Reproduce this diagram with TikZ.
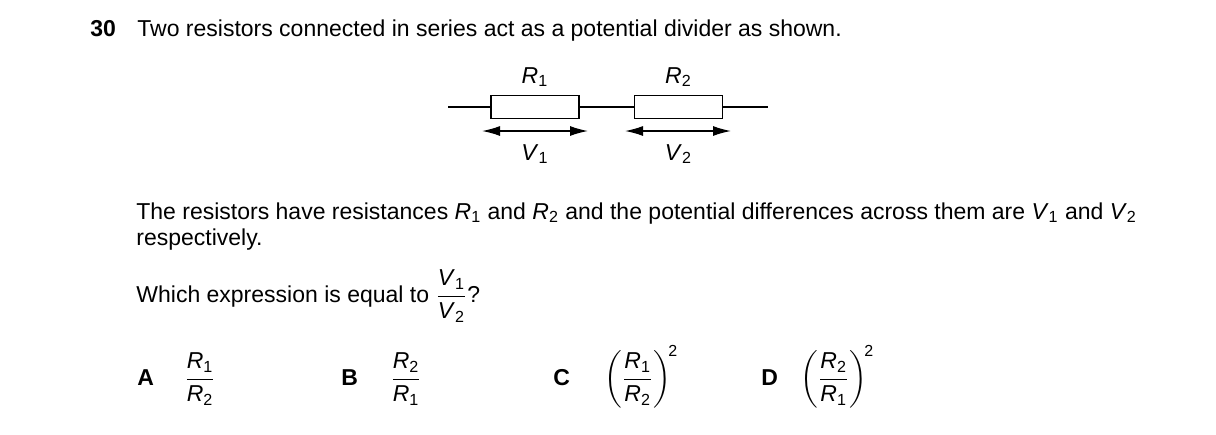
\documentclass[tikz,border=0pt]{standalone}
\usepackage{amsmath}
\usepackage{fontspec}
\setmainfont{Liberation Sans}
\usetikzlibrary{arrows.meta}
\newcommand{\vq}[2]{\textit{#1}\textsubscript{#2}}
\newcommand{\sq}{\mbox{\fontsize{8}{9}\selectfont 2}}
\begin{document}
\begin{tikzpicture}[x=0.5pt,y=-0.5pt,
    txt/.style={anchor=base west, inner sep=0pt, font=\fontsize{11.5}{14}\selectfont},
    res/.style={draw, line width=0.8pt, fill=white, minimum width=44pt, minimum height=11.5pt, inner sep=0pt},
    vlab/.style={inner sep=0pt, font=\fontsize{11.5}{14}\selectfont},
    span/.style={line width=0.7pt, {Latex[length=9pt,width=5pt]}-{Latex[length=9pt,width=5pt]}}]
    \useasboundingbox (0,0) rectangle (1216,434);
    % question
    \node[txt] (num) at (90,36) {\textbf{30}};
    \node[txt] (head) at (137,36) {Two resistors connected in series act as a potential divider as shown.};
    % circuit
    \coordinate (wl) at (448,107);
    \coordinate (wr) at (768,107);
    \draw[line width=0.8pt] (wl) -- (wr);
    \node[res] (r1) at (535,107) {};
    \node[res] (r2) at (678.5,107) {};
    \node[vlab] (r1lab) at (535,77) {\vq{R}{1}};
    \node[vlab] (r2lab) at (678.5,77) {\vq{R}{2}};
    \coordinate (a1) at (482,131);
    \coordinate (b1) at (588,131);
    \coordinate (a2) at (625,131);
    \coordinate (b2) at (731,131);
    \draw[span] (a1) -- (b1);
    \draw[span] (a2) -- (b2);
    \node[vlab] (v1lab) at (535,154) {\vq{V}{1}};
    \node[vlab] (v2lab) at (678.5,154) {\vq{V}{2}};
    % text
    \node[txt] (p1) at (136,219) {The resistors have resistances \vq{R}{1} and \vq{R}{2} and the potential differences across them are \vq{V}{1} and \vq{V}{2}};
    \node[txt] (p2) at (136,245) {respectively.};
    \node[txt] (ask) at (136,302) {Which expression is equal to $\dfrac{\mbox{\vq{V}{1}}}{\mbox{\vq{V}{2}}}$?};
    % options
    \node[txt] (oa) at (137,385) {\textbf{A}};
    \node[txt] (fa) at (184,385) {$\dfrac{\mbox{\vq{R}{1}}}{\mbox{\vq{R}{2}}}$};
    \node[txt] (ob) at (341,385) {\textbf{B}};
    \node[txt] (fb) at (390,385) {$\dfrac{\mbox{\vq{R}{2}}}{\mbox{\vq{R}{1}}}$};
    \node[txt] (oc) at (553,385) {\textbf{C}};
    \node[txt] (fc) at (604,385) {$\left(\dfrac{\mbox{\vq{R}{1}}}{\mbox{\vq{R}{2}}}\right)^{\!\sq}$};
    \node[txt] (od) at (761,385) {\textbf{D}};
    \node[txt] (fd) at (800,385) {$\left(\dfrac{\mbox{\vq{R}{2}}}{\mbox{\vq{R}{1}}}\right)^{\!\sq}$};
\end{tikzpicture}
\end{document}
